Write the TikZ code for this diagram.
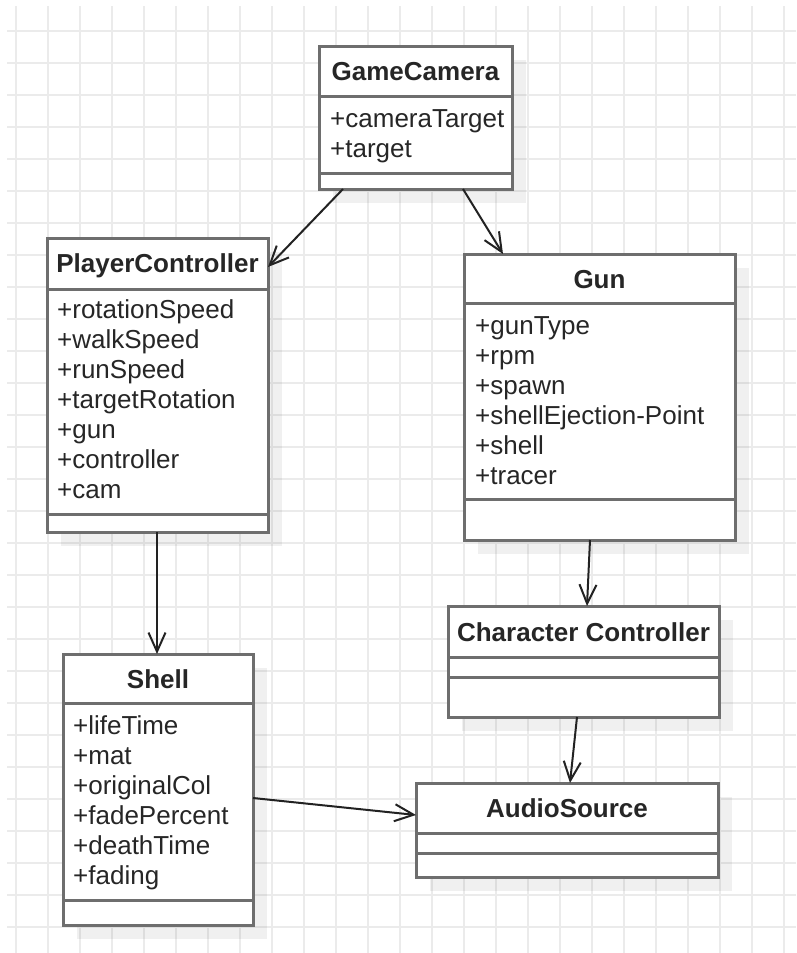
\documentclass[tikz,border=0pt]{standalone}
\usepackage{fontspec}
\setmainfont{Liberation Sans}
\usetikzlibrary{arrows.meta,calc}

\definecolor{gridc}{HTML}{EBEBEB}
\definecolor{boxc}{HTML}{6E6E6E}
\definecolor{linkc}{HTML}{222222}
\definecolor{textc}{HTML}{262626}

\tikzset{
  gridline/.style={draw=gridc, line width=2pt},
  classbox/.style={draw=boxc, line width=3pt, fill=white, rectangle,
                   inner sep=0pt, outer sep=0pt, anchor=north west},
  shadowbox/.style={fill=black, fill opacity=0.06, draw=none},
  divider/.style={draw=boxc, line width=3pt},
  title/.style={font=\fontsize{26}{30}\selectfont\bfseries, inner sep=0pt,
                anchor=base, text=textc},
  attr/.style={font=\fontsize{26}{30}\selectfont, inner sep=0pt,
               anchor=base west, text=textc},
  link/.style={draw=linkc, line width=2pt,
               -{Straight Barb[length=19pt,width=17pt,line width=2pt]}},
}

% name, left, top, width, height, first divider, second divider
\newcommand\umlclass[7]{%
  \fill[shadowbox] (#2+14,#3+14) rectangle ++(#4,#5);
  \node[classbox, minimum width=#4pt, minimum height=#5pt] (#1) at (#2,#3) {};
  \draw[divider] ($(#1.north west)+(0,#6)$) -- ($(#1.north east)+(0,#6)$);
  \draw[divider] ($(#1.north west)+(0,#7)$) -- ($(#1.north east)+(0,#7)$);
}

\begin{document}
\begin{tikzpicture}[x=1pt,y=-1pt]
  \useasboundingbox (0,0) rectangle (796,953);
  \fill[white] (0,0) rectangle (796,953);

  % background grid
  \foreach \gx in {16,48,...,784} \draw[gridline] (\gx,6) -- (\gx,953);
  \foreach \gy in {31,63,...,927} \draw[gridline] (7,\gy) -- (796,\gy);

  % classes
  \umlclass{gc}{319}{46}{193}{143}{50}{127}
  \umlclass{pc}{47}{238}{221}{294}{51}{276}
  \umlclass{gun}{464}{254}{271}{286}{49}{245}
  \umlclass{shell}{63}{654}{190}{271}{49}{246}
  \umlclass{cc}{448}{606}{271}{111}{51}{71}
  \umlclass{as}{416}{783}{302}{94}{50}{70}

  % class names
  \node[title] (gc-t) at ($(gc.north)+(0,34)$) {GameCamera};
  \node[title] (pc-t) at ($(pc.north)+(0,34)$) {PlayerController};
  \node[title] (gun-t) at ($(gun.north)+(0,34)$) {Gun};
  \node[title] (shell-t) at ($(shell.north)+(0,34)$) {Shell};
  \node[title] (cc-t) at ($(cc.north)+(0,35)$) {Character Controller};
  \node[title] (as-t) at ($(as.north)+(0,34)$) {AudioSource};

  % attributes
  \foreach \t [count=\i] in {+cameraTarget,+target}
    \node[attr] (gc-a\i) at ($(gc.north west)+(11,{51+30*\i})$) {\t};
  \foreach \t [count=\i] in {+rotationSpeed,+walkSpeed,+runSpeed,+targetRotation,+gun,+controller,+cam}
    \node[attr] (pc-a\i) at ($(pc.north west)+(10,{50+30*\i})$) {\t};
  \foreach \t [count=\i] in {+gunType,+rpm,+spawn,+shellEjection-Point,+shell,+tracer}
    \node[attr] (gun-a\i) at ($(gun.north west)+(11,{50+30*\i})$) {\t};
  \foreach \t [count=\i] in {+lifeTime,+mat,+originalCol,+fadePercent,+deathTime,+fading}
    \node[attr] (shell-a\i) at ($(shell.north west)+(10,{50+30*\i})$) {\t};

  % associations
  \draw[link] ($(gc.south west)+(24,0)$) -- ($(pc.north east)+(0,29)$);
  \draw[link] ($(gc.south west)+(144,0)$) -- ($(gun.north west)+(39,0)$);
  \draw[link] ($(pc.south west)+(110,0)$) -- ($(shell.north west)+(94,0)$);
  \draw[link] ($(gun.south west)+(126,0)$) -- ($(cc.north west)+(139,0)$);
  \draw[link] ($(cc.south west)+(129,0)$) -- ($(as.north west)+(154,0)$);
  \draw[link] ($(shell.north east)+(0,144)$) -- ($(as.north west)+(0,32)$);
\end{tikzpicture}
\end{document}
